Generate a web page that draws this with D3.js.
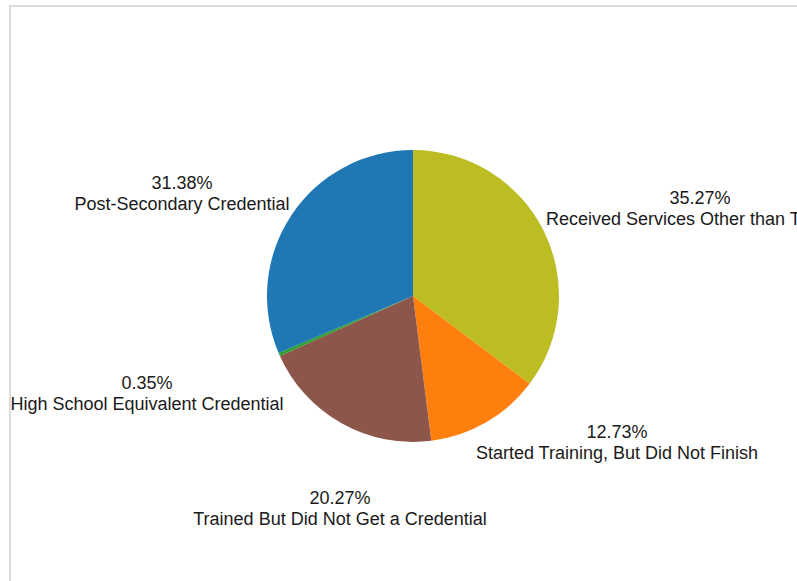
<!DOCTYPE html>
<html>
<head>
<meta charset="utf-8">
<script src="https://cdn.jsdelivr.net/npm/d3@7/dist/d3.min.js"></script>
<style>
  html, body { margin: 0; padding: 0; background: #fff; overflow: hidden; }
  svg { display: block; }
</style>
</head>
<body>
<svg id="chart" width="797" height="581"></svg>
<script>
// ---- data ----
const categories = [
  "Received Services Other than Training",
  "Started Training, But Did Not Finish",
  "Trained But Did Not Get a Credential",
  "High School Equivalent Credential",
  "Post-Secondary Credential"
];
const values = [35.27, 12.73, 20.27, 0.35, 31.38];
const colors = ["#bcbd22", "#ff7f0e", "#8c564b", "#2ca02c", "#1f77b4"];
// label block offsets from pie centre, in units of radius (layout only)
const labelOffsets = [[1.966, -0.63], [1.397, 0.973], [-0.5, 1.425], [-1.822, 0.637], [-1.582, -0.733]];

// ---- layout ----
const W = 797, H = 581;
const cx = 413, cy = 296, r = 146;

const svg = d3.select("#chart");

svg.append("rect")
  .attr("x", 10).attr("y", 6)
  .attr("width", 820).attr("height", 620)
  .attr("fill", "#fff")
  .attr("stroke", "#dddddd")
  .attr("stroke-width", 2);

const data = categories.map((c, i) => ({ name: c, value: values[i], color: colors[i], off: labelOffsets[i] }));

const pie = d3.pie().value(d => d.value).sort(null).startAngle(0).endAngle(2 * Math.PI);
const arc = d3.arc().innerRadius(0).outerRadius(r);

const g = svg.append("g").attr("transform", `translate(${cx},${cy})`);

g.selectAll("path.slice")
  .data(pie(data))
  .join("path")
  .attr("class", "slice")
  .attr("d", arc)
  .attr("fill", d => d.data.color)
  .attr("stroke", "none");

const fmt = v => v.toFixed(2) + "%";

const labels = g.selectAll("text.lbl")
  .data(pie(data))
  .join("text")
  .attr("class", "lbl")
  .attr("text-anchor", "middle")
  .attr("font-family", "Liberation Sans, Arial, Helvetica, sans-serif")
  .attr("font-size", 18)
  .attr("fill", "#1a1a1a")
  .attr("transform", d => `translate(${d.data.off[0] * r},${d.data.off[1] * r})`);

labels.append("tspan").attr("x", 0).attr("y", 0).text(d => fmt(d.data.value));
labels.append("tspan").attr("x", 0).attr("y", 21).text(d => d.data.name);
</script>
</body>
</html>
